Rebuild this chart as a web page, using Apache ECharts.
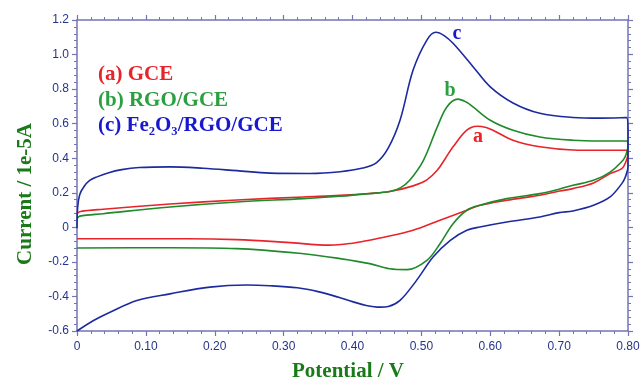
<!DOCTYPE html>
<html>
<head>
<meta charset="utf-8">
<script src="https://cdn.jsdelivr.net/npm/echarts@6/dist/echarts.min.js"></script>
<style>html,body{margin:0;padding:0;background:#fff}#chart{width:643px;height:384px}</style>
</head>
<body>
<div id="chart"></div>
<script>
// (a) GCE : forward scan then reverse scan
const gcePotential = [0, 0.005, 0.038, 0.135, 0.232, 0.329, 0.382, 0.425, 0.454, 0.488, 0.508, 0.523, 0.535, 0.546, 0.566, 0.581, 0.594, 0.604, 0.633, 0.672, 0.72, 0.76, 0.798,
  0.8, 0.797, 0.791, 0.774, 0.75, 0.72, 0.701, 0.672, 0.624, 0.585, 0.566, 0.527, 0.488, 0.44, 0.42, 0.4, 0.367, 0.305, 0.232, 0.16, 0];
const gceCurrent = [0.08, 0.092, 0.105, 0.135, 0.158, 0.176, 0.185, 0.196, 0.207, 0.24, 0.275, 0.33, 0.4, 0.466, 0.562, 0.585, 0.578, 0.562, 0.504, 0.466, 0.448, 0.446, 0.446,
  0.43, 0.38, 0.34, 0.311, 0.257, 0.224, 0.21, 0.186, 0.157, 0.128, 0.099, 0.041, -0.017, -0.062, -0.078, -0.092, -0.103, -0.087, -0.071, -0.066, -0.066];

// (b) RGO/GCE
const rgoPotential = [0, 0.004, 0.038, 0.135, 0.232, 0.329, 0.382, 0.425, 0.454, 0.47, 0.483, 0.503, 0.523, 0.537, 0.553, 0.565, 0.575, 0.6, 0.633, 0.672, 0.72, 0.76, 0.798,
  0.8, 0.797, 0.793, 0.774, 0.75, 0.72, 0.701, 0.672, 0.624, 0.585, 0.566, 0.546, 0.527, 0.508, 0.479, 0.454, 0.425, 0.382, 0.329, 0.232, 0.135, 0];
const rgoCurrent = [0.05, 0.065, 0.079, 0.118, 0.147, 0.166, 0.18, 0.195, 0.207, 0.23, 0.272, 0.388, 0.58, 0.697, 0.742, 0.725, 0.697, 0.62, 0.562, 0.523, 0.504, 0.5, 0.5,
  0.47, 0.42, 0.39, 0.32, 0.272, 0.243, 0.222, 0.195, 0.166, 0.128, 0.099, 0.021, -0.095, -0.191, -0.245, -0.24, -0.21, -0.181, -0.153, -0.123, -0.118, -0.12];

// (c) Fe2O3/RGO/GCE
const fePotential = [0, 0.001, 0.004, 0.01, 0.018, 0.029, 0.045, 0.065, 0.09, 0.135, 0.183, 0.232, 0.28, 0.338, 0.382, 0.415, 0.435, 0.452, 0.469, 0.488, 0.508, 0.521, 0.533, 0.546, 0.575, 0.6, 0.633, 0.672, 0.72, 0.76, 0.798,
  0.8, 0.8, 0.796, 0.791, 0.774, 0.75, 0.72, 0.7, 0.672, 0.624, 0.585, 0.566, 0.542, 0.517, 0.493, 0.469, 0.452, 0.44, 0.42, 0.4, 0.38, 0.35, 0.32, 0.28, 0.246, 0.193, 0.135, 0.087, 0.048, 0.024, 0];
const feCurrent = [-0.005, 0.118, 0.19, 0.235, 0.27, 0.292, 0.315, 0.334, 0.346, 0.35, 0.342, 0.328, 0.314, 0.312, 0.322, 0.343, 0.375, 0.46, 0.62, 0.91, 1.084, 1.129, 1.11, 1.065, 0.93, 0.813, 0.72, 0.66, 0.636, 0.632, 0.635,
  0.55, 0.35, 0.29, 0.253, 0.176, 0.128, 0.095, 0.085, 0.06, 0.031, 0.002, -0.017, -0.075, -0.172, -0.307, -0.423, -0.458, -0.462, -0.452, -0.43, -0.405, -0.372, -0.35, -0.338, -0.334, -0.346, -0.385, -0.423, -0.491, -0.539, -0.6];

const legendLabels = ['(a) GCE', '(b) RGO/GCE', '(c) Fe\u2082O\u2083/RGO/GCE'];
const curveLetters = ['a', 'b', 'c'];
const xTitle = 'Potential / V';
const yTitle = 'Current / 1e-5A';

const colors = ['#e8242a', '#1f8a2a', '#1c2aa0'];
const legendColors = ['#e8242a', '#2aa040', '#1818d0'];

function pairs(xs, ys) { return xs.map((x, i) => [x, ys[i]]); }

const serif = '"Liberation Serif", "Times New Roman", serif';
const axisColor = '#7474b4';
const labelColor = '#24348c';

const chart = echarts.init(document.getElementById('chart'), null, { renderer: 'canvas' });
const baseAxis = {
  axisLine: { show: true, onZero: false, lineStyle: { color: axisColor, width: 1.5 } },
  axisTick: { show: true, length: 5, lineStyle: { color: axisColor, width: 1.2 } },
  minorTick: { show: true, splitNumber: 5, length: 3, lineStyle: { color: axisColor, width: 1 } },
  splitLine: { show: false },
  minorSplitLine: { show: false }
};
chart.setOption({
  animation: false,
  backgroundColor: '#ffffff',
  grid: { left: 77, right: 15, top: 20, bottom: 53 },
  xAxis: [
    Object.assign({}, baseAxis, {
      type: 'value', min: 0, max: 0.8, interval: 0.1, position: 'bottom',
      axisLabel: { color: labelColor, fontFamily: '"Liberation Sans", Arial, sans-serif', fontSize: 12, margin: 10,
        formatter: v => v === 0 ? '0' : v.toFixed(2) }
    }),
    Object.assign({}, baseAxis, {
      type: 'value', min: 0, max: 0.8, interval: 0.1, position: 'top',
      axisLabel: { show: false }
    })
  ],
  yAxis: [
    Object.assign({}, baseAxis, {
      type: 'value', min: -0.6, max: 1.2, interval: 0.2, position: 'left',
      axisLabel: { color: labelColor, fontFamily: '"Liberation Sans", Arial, sans-serif', fontSize: 12, margin: 8,
        formatter: v => Math.abs(v) < 1e-9 ? '0' : v.toFixed(1) }
    }),
    Object.assign({}, baseAxis, {
      type: 'value', min: -0.6, max: 1.2, interval: 0.2, position: 'right',
      axisLabel: { show: false }
    })
  ],
  series: [
    { type: 'line', data: pairs(gcePotential, gceCurrent), showSymbol: false, smooth: 0.35, lineStyle: { color: colors[0], width: 1.6 }, z: 3 },
    { type: 'line', data: pairs(rgoPotential, rgoCurrent), showSymbol: false, smooth: 0.35, lineStyle: { color: colors[1], width: 1.6 }, z: 4 },
    { type: 'line', data: pairs(fePotential, feCurrent), showSymbol: false, smooth: 0.35, lineStyle: { color: colors[2], width: 1.6 }, z: 5 }
  ],
  graphic: [
    { type: 'text', x: 98, y: 75, style: { text: legendLabels[0], fill: legendColors[0], font: 'bold 21px ' + serif, textVerticalAlign: 'middle' } },
    { type: 'text', x: 98, y: 101, style: { text: legendLabels[1], fill: legendColors[1], font: 'bold 21px ' + serif, textVerticalAlign: 'middle' } },
    { type: 'text', x: 98, y: 126, style: { text: legendLabels[2], fill: legendColors[2], font: 'bold 21px ' + serif, textVerticalAlign: 'middle' } },
    { type: 'text', x: 478, y: 137, style: { text: curveLetters[0], fill: legendColors[0], font: 'bold 20px ' + serif, textAlign: 'center', textVerticalAlign: 'middle' } },
    { type: 'text', x: 450, y: 91, style: { text: curveLetters[1], fill: legendColors[1], font: 'bold 20px ' + serif, textAlign: 'center', textVerticalAlign: 'middle' } },
    { type: 'text', x: 457, y: 34, style: { text: curveLetters[2], fill: legendColors[2], font: 'bold 20px ' + serif, textAlign: 'center', textVerticalAlign: 'middle' } },
    { type: 'text', x: 348, y: 372, style: { text: xTitle, fill: '#1a7a1a', font: 'bold 21px ' + serif, textAlign: 'center', textVerticalAlign: 'middle' } },
    { type: 'text', x: 26, y: 194, rotation: Math.PI / 2, style: { text: yTitle, fill: '#1a7a1a', font: 'bold 21px ' + serif, textAlign: 'center', textVerticalAlign: 'middle' } }
  ]
});
</script>
</body>
</html>
